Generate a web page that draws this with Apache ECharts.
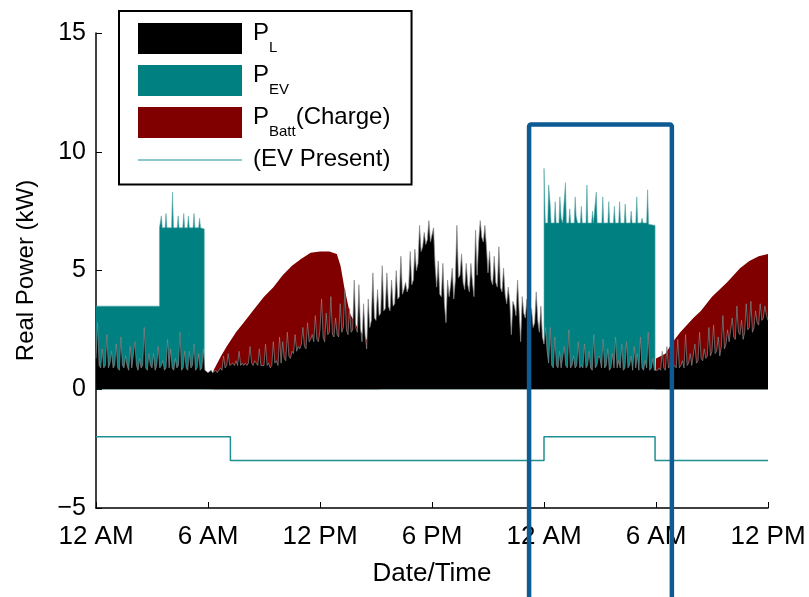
<!DOCTYPE html>
<html>
<head>
<meta charset="utf-8">
<script src="https://cdn.jsdelivr.net/npm/echarts@6/dist/echarts.min.js"></script>
<style>
  html, body { margin: 0; padding: 0; background: #fff; }
  #main { width: 809px; height: 597px; }
</style>
</head>
<body>
<div id="main"></div>
<script>
// x axis in hours from the first midnight
const xTickLabels = ['12 AM', '6 AM', '12 PM', '6 PM', '12 AM', '6 AM', '12 PM'];
const stepMinutes = 5;

// household load P_L, one value every 5 minutes (kW), one row per hour
const loadKW = [
  1.3, 2.8, 1.0, 0.9, 1.7, 0.9, 1.0, 2.3, 0.9, 1.1, 1.6, 0.9,
  1.0, 1.9, 0.9, 0.8, 2.2, 1.0, 0.9, 1.4, 1.0, 0.8, 1.8, 0.9,
  0.9, 2.0, 1.0, 0.8, 1.3, 0.9, 1.0, 2.6, 0.9, 0.8, 1.5, 1.0,
  0.9, 1.5, 0.8, 1.0, 1.8, 0.9, 1.0, 1.2, 0.8, 0.9, 2.1, 0.9,
  1.7, 0.9, 0.8, 1.3, 0.9, 1.0, 2.4, 0.8, 0.9, 1.6, 0.9, 0.8,
  1.6, 0.9, 1.0, 1.9, 0.8, 0.9, 1.5, 0.8, 0.9, 1.7, 0.8, 0.8,
  0.7, 0.7, 0.8, 0.7, 0.7, 0.8, 0.7, 0.8, 0.9, 0.8, 1.4, 0.9,
  1.0, 1.5, 1.0, 1.0, 1.1, 1.0, 1.2, 1.0, 1.6, 1.0, 1.1, 1.0,
  1.1, 1.0, 1.1, 1.8, 1.1, 1.0, 1.2, 1.1, 1.0, 1.7, 1.0, 1.0,
  1.0, 1.9, 1.0, 1.1, 0.9, 1.0, 2.0, 1.1, 1.2, 1.0, 2.2, 1.1,
  2.0, 1.3, 1.2, 2.4, 1.4, 1.3, 1.6, 1.5, 2.3, 1.6, 1.8, 1.7,
  1.9, 2.6, 1.8, 1.7, 2.8, 2.0, 2.1, 2.3, 2.0, 3.1, 2.1, 2.0,
  2.5, 3.8, 2.2, 2.0, 3.2, 2.3, 2.4, 3.9, 2.3, 2.2, 3.0, 2.3,
  2.2, 3.6, 2.4, 2.6, 4.2, 2.5, 2.3, 3.4, 2.4, 2.5, 4.6, 2.6,
  2.4, 4.4, 2.6, 2.0, 3.6, 2.3, 1.7, 3.8, 2.6, 2.9, 4.9, 3.0,
  2.9, 4.2, 3.1, 3.2, 5.2, 3.3, 3.4, 4.9, 3.5, 3.3, 4.6, 3.5,
  3.6, 5.0, 3.8, 3.9, 5.6, 4.0, 4.2, 4.5, 4.1, 4.3, 5.8, 4.4,
  4.6, 5.9, 5.0, 5.3, 6.9, 5.8, 6.0, 6.6, 6.1, 6.3, 7.1, 6.2,
  6.2, 6.8, 5.2, 4.3, 5.4, 4.0, 3.9, 5.3, 3.6, 2.8, 4.6, 3.9,
  4.4, 5.1, 3.8, 4.6, 6.9, 4.7, 4.8, 5.7, 4.5, 4.2, 5.3, 4.4,
  4.1, 5.3, 4.5, 3.9, 6.7, 4.8, 6.2, 7.1, 6.4, 6.2, 6.9, 6.0,
  4.9, 5.8, 4.6, 4.4, 5.6, 4.5, 4.3, 6.0, 4.3, 4.1, 5.1, 4.0,
  3.6, 4.3, 3.7, 2.3, 3.7, 3.5, 3.1, 4.6, 3.3, 2.0, 3.9, 3.2,
  3.0, 3.8, 2.7, 2.8, 3.4, 2.6, 2.8, 4.1, 2.9, 2.4, 3.5, 2.2,
  1.9, 2.6, 1.6, 1.1, 2.6, 1.0, 0.9, 2.2, 1.0, 0.9, 1.6, 0.9,
  0.9, 1.8, 1.0, 0.9, 2.5, 0.9, 1.0, 1.4, 0.9, 1.0, 2.0, 0.9,
  1.0, 0.9, 1.9, 0.9, 1.0, 1.6, 0.9, 0.8, 2.3, 0.9, 1.0, 1.4,
  1.3, 0.9, 2.1, 0.9, 1.0, 1.7, 0.8, 0.9, 1.5, 0.9, 2.2, 0.9,
  1.2, 0.9, 1.9, 0.8, 0.9, 2.0, 0.9, 1.0, 1.4, 0.8, 1.8, 0.9,
  1.5, 0.8, 2.2, 0.9, 0.8, 1.2, 0.9, 2.4, 0.8, 0.9, 1.3, 0.8,
  0.8, 0.8, 0.9, 0.8, 1.6, 0.9, 0.8, 1.8, 0.9, 1.0, 2.0, 0.9,
  1.0, 0.9, 2.1, 0.9, 1.0, 1.2, 0.9, 2.3, 1.0, 1.1, 1.5, 1.0,
  1.0, 1.9, 1.1, 1.2, 2.4, 1.3, 1.2, 1.7, 1.3, 1.4, 2.6, 1.4,
  1.6, 2.7, 1.5, 1.6, 2.2, 1.4, 1.8, 3.1, 1.7, 1.9, 2.5, 2.0,
  2.0, 3.0, 2.2, 2.1, 3.5, 2.4, 2.3, 2.9, 2.1, 2.4, 3.6, 2.5,
  2.6, 3.7, 2.4, 2.6, 3.3, 2.8, 2.7, 3.6, 2.9, 3.0, 3.5, 3.1,
  2.9
];

// top edge of the EV charging area (load + EV), [hour, kW]
const evTop = [
  [0, 3.5], [3.4, 3.5], [3.4, 6.8],
  [3.45, 6.8], [3.5, 7.3], [3.55, 6.8], [3.7, 6.8], [3.75, 7.4], [3.8, 6.8],
  [4.05, 6.8], [4.1, 8.3], [4.15, 6.8], [4.35, 6.8], [4.4, 7.3], [4.45, 6.8],
  [4.65, 6.8], [4.7, 7.4], [4.75, 6.8], [4.9, 6.8], [4.95, 7.3], [5.0, 6.8],
  [5.2, 6.8], [5.25, 7.4], [5.3, 6.8], [5.5, 6.8], [5.55, 7.2], [5.6, 6.8],
  [5.8, 6.75], [5.8, 0],
  [24.0, 0], [24.0, 9.3], [24.07, 7.0], [24.2, 7.0], [24.25, 8.6], [24.32, 7.9], [24.38, 7.0],
  [24.55, 7.0], [24.6, 7.9], [24.65, 7.0], [24.8, 7.0], [24.85, 8.1], [24.92, 7.2], [25.0, 7.0],
  [25.1, 7.0], [25.15, 8.7], [25.2, 7.0], [25.33, 7.0], [25.38, 7.6], [25.43, 7.0],
  [25.62, 7.0], [25.67, 8.1], [25.72, 7.3], [25.8, 7.0], [25.95, 7.0], [26.0, 7.7], [26.05, 7.0],
  [26.25, 7.0], [26.3, 8.6], [26.35, 7.0], [26.55, 7.0], [26.6, 7.5], [26.65, 7.0],
  [26.75, 7.0], [26.8, 8.3], [26.85, 7.0], [27.1, 7.0], [27.15, 8.1], [27.2, 7.0],
  [27.42, 7.0], [27.47, 7.9], [27.52, 7.0], [27.72, 7.0], [27.77, 7.7], [27.82, 7.0],
  [28.0, 7.0], [28.05, 7.9], [28.1, 7.0], [28.3, 7.0], [28.35, 7.8], [28.4, 7.0],
  [28.62, 7.0], [28.67, 7.5], [28.72, 7.0], [28.92, 7.0], [28.97, 8.1], [29.02, 7.0],
  [29.2, 7.0], [29.25, 7.2], [29.3, 7.0], [29.5, 7.0], [29.55, 8.4], [29.6, 6.95],
  [29.95, 6.9], [29.95, 0], [36, 0]
];

// top edge of the battery charging area (load + battery), [hour, kW]
const battTop = [
  [0, 0], [6.2, 0], [6.3, 0.8], [6.7, 1.4], [7, 1.8], [7.5, 2.4], [8, 2.9], [8.5, 3.4],
  [9, 3.9], [9.5, 4.3], [10, 4.8], [10.5, 5.2], [11, 5.5], [11.5, 5.75], [12, 5.8],
  [12.5, 5.8], [12.9, 5.7], [13.1, 5.2], [13.3, 4.3], [13.6, 3.2], [14, 2.6], [14.5, 2.1],
  [15, 1.5], [15.2, 0], [29.95, 0], [30.0, 1.3], [30.5, 1.5], [31, 2.1], [31.3, 2.4],
  [32, 3.0], [32.4, 3.3], [33, 3.9], [33.8, 4.5], [34.5, 5.1], [35, 5.4], [35.5, 5.6], [36, 5.7]
];

// EV present indicator, drawn below zero
const evPresent = [
  [0, -2], [7.2, -2], [7.2, -3], [24, -3], [24, -2], [29.95, -2], [29.95, -3], [36, -3]
];

// highlighted window (hours) and its top (kW)
const windowHours = [23.2, 30.85];
const windowTop = 11.15;

const loadPairs = loadKW.map((v, i) => [i * stepMinutes / 60, v]);

const font = 'Liberation Sans, Arial, sans-serif';
const chart = echarts.init(document.getElementById('main'));

chart.setOption({
  animation: false,
  backgroundColor: '#fff',
  grid: { left: 96, right: 41, top: 33, bottom: 89 },
  legend: {
    orient: 'vertical',
    left: 119,
    top: 11,
    padding: [10, 17, 9, 19],
    itemWidth: 104,
    itemHeight: 31,
    itemGap: 7.5,
    backgroundColor: '#fff',
    borderColor: '#000',
    borderWidth: 2,
    data: [
      { name: 'P_L', icon: 'rect' },
      { name: 'P_EV', icon: 'rect' },
      { name: 'P_Batt', icon: 'rect' },
      { name: 'EV Present', icon: 'path://M0,0H100V1H0Z' }
    ],
    formatter: function (name) {
      if (name === 'P_L') return '{p|P}{sub|L}';
      if (name === 'P_EV') return '{p|P}{sub|EV}';
      if (name === 'P_Batt') return '{p|P}{sub|Batt}{p|(Charge)}';
      return '{q|(EV Present)}{s| }';
    },
    textStyle: {
      fontFamily: font,
      fontSize: 24,
      color: '#000',
      padding: [0, 0, 0, 6],
      rich: {
        p: { fontFamily: font, fontSize: 24, padding: [0, 0, 11, 0], color: '#000' },
        sub: { fontFamily: font, fontSize: 15, padding: [19, 0, 0, 0], color: '#000' },
        q: { fontFamily: font, fontSize: 24, padding: [2, 0, 4, 0], color: '#000' },
        s: { fontFamily: font, fontSize: 15, padding: [16, 0, 0, 0], color: '#000' }
      }
    }
  },
  xAxis: {
    type: 'value',
    min: 0,
    max: 36,
    interval: 6,
    name: 'Date/Time',
    nameLocation: 'middle',
    nameGap: 53,
    nameTextStyle: { fontFamily: font, fontSize: 26, color: '#000' },
    axisLine: { onZero: false, lineStyle: { color: '#000', width: 1.5 } },
    axisTick: { inside: true, length: 6, lineStyle: { color: '#000', width: 1 } },
    axisLabel: {
      fontFamily: font, fontSize: 26, color: '#000', margin: 16,
      showMaxLabel: true, showMinLabel: true,
      formatter: v => xTickLabels[Math.round(v / 6)]
    },
    splitLine: { show: false }
  },
  yAxis: {
    type: 'value',
    min: -5,
    max: 15,
    interval: 5,
    name: 'Real Power (kW)',
    nameLocation: 'middle',
    nameGap: 58,
    nameTextStyle: { fontFamily: font, fontSize: 24, color: '#000' },
    axisLine: { show: true, lineStyle: { color: '#000', width: 1.5 } },
    axisTick: { show: true, inside: true, length: 6, lineStyle: { color: '#000', width: 1 } },
    axisLabel: {
      fontFamily: font, fontSize: 25, color: '#000', margin: 10,
      formatter: v => (v < 0 ? '\u2212' + (-v) : String(v))
    },
    splitLine: { show: false }
  },
  series: [
    {
      name: 'P_Batt',
      type: 'line',
      data: battTop,
      color: '#800000',
      symbol: 'none',
      lineStyle: { width: 0 },
      areaStyle: { color: '#800000', opacity: 1 },
      z: 1
    },
    {
      name: 'P_EV',
      type: 'line',
      data: evTop,
      color: '#008080',
      symbol: 'none',
      lineStyle: { width: 0.6, color: '#5aa8a8' },
      areaStyle: { color: '#008080', opacity: 1 },
      z: 2
    },
    {
      name: 'P_L',
      type: 'line',
      data: loadPairs,
      color: '#000',
      symbol: 'none',
      lineStyle: { width: 0.7, color: '#888' },
      areaStyle: { color: '#000', opacity: 1 },
      z: 3
    },
    {
      name: 'EV Present',
      type: 'line',
      data: evPresent,
      color: '#1f8f8f',
      symbol: 'none',
      lineStyle: { width: 1.5, color: '#1f8f8f' },
      z: 4
    }
  ]
});

// blue highlight frame around the second EV session
const p1 = chart.convertToPixel({ gridIndex: 0 }, [windowHours[0], windowTop]);
const p2 = chart.convertToPixel({ gridIndex: 0 }, [windowHours[1], windowTop]);
chart.setOption({
  graphic: [{
    type: 'rect',
    z: 100,
    shape: { x: p1[0], y: p1[1], width: p2[0] - p1[0], height: 700, r: 2 },
    style: { fill: 'none', stroke: '#0c5b95', lineWidth: 4.5 }
  }]
});
</script>
</body>
</html>
